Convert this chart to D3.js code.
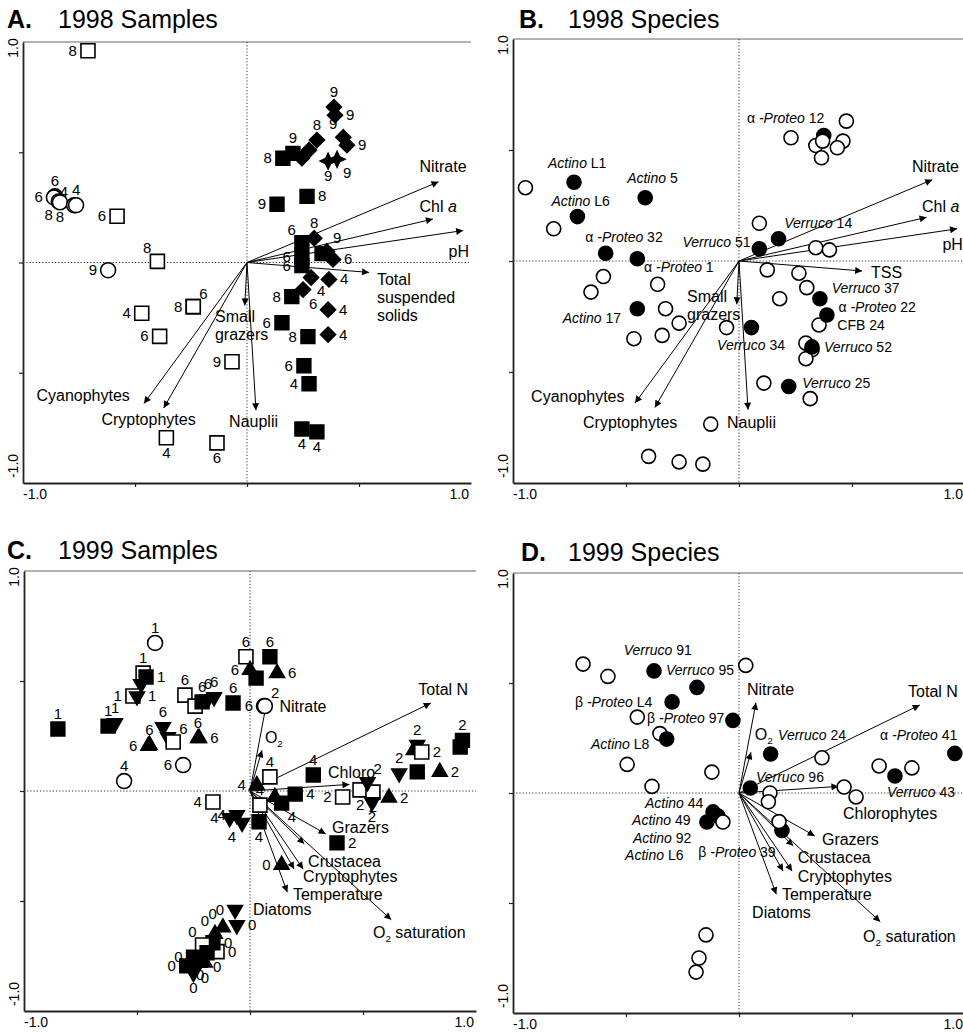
<!DOCTYPE html>
<html>
<head>
<meta charset="utf-8">
<script src="https://cdn.jsdelivr.net/npm/d3@7"></script>
<style>
  body { margin: 0; background: #fff; }
  text { font-family: "Liberation Sans", Arial, sans-serif; fill: #000; white-space: pre; }
</style>
</head>
<body>
<svg width="963" height="1033"></svg>
<script>
// ---- data, in ordination axis units (-1..1) ----

// environmental vectors (same for both panels of a year)
var vec98 = [
  ["Nitrate", 0.855, 0.366],
  ["Chl a", 0.83, 0.197],
  ["pH", 0.965, 0.145],
  ["TSS", 0.545, -0.045],
  ["Small grazers", -0.01, -0.195],
  ["Nauplii", 0.04, -0.67],
  ["Cyanophytes", -0.46, -0.64],
  ["Cryptophytes", -0.372, -0.66]
];
var vec99 = [
  ["Total N", 0.80, 0.40],
  ["Nitrate", 0.075, 0.41],
  ["O2", 0.053, 0.185],
  ["Chlorophytes", 0.44, 0.03],
  ["Grazers", 0.335, -0.195],
  ["Crustacea", 0.24, -0.24],
  ["Cryptophytes", 0.235, -0.355],
  ["Temperature", 0.195, -0.355],
  ["Diatoms", 0.165, -0.46],
  ["O2 saturation", 0.625, -0.585]
];

// vector label anchors: text ("|" new line, _italic_, ~sub~), x, y
var vecLabA = [
  ["Nitrate", 0.77, 0.41], ["Chl _a_", 0.77, 0.23], ["pH", 0.90, 0.027],
  ["Total|suspended|solids", 0.58, -0.10], ["Small|grazers", -0.143, -0.27],
  ["Cyanophytes", -0.94, -0.63], ["Cryptophytes", -0.65, -0.735], ["Nauplii", -0.08, -0.745]
];
var vecLabB = [
  ["Nitrate", 0.765, 0.40], ["Chl _a_", 0.81, 0.22], ["pH", 0.90, 0.05],
  ["TSS", 0.584, -0.077], ["Small|grazers", -0.23, -0.185],
  ["Cyanophytes", -0.92, -0.635], ["Cryptophytes", -0.69, -0.75], ["Nauplii", -0.053, -0.75]
];
var vecLabC = [
  ["Total N", 0.745, 0.436], ["Nitrate", 0.13, 0.36], ["O~2~", 0.066, 0.22],
  ["Chloro", 0.345, 0.06], ["Grazers", 0.363, -0.19], ["Crustacea", 0.257, -0.345],
  ["Cryptophytes", 0.235, -0.414], ["Temperature", 0.19, -0.495],
  ["Diatoms", 0.013, -0.564], ["O~2~ saturation", 0.544, -0.668]
];
var vecLabD = [
  ["Total N", 0.748, 0.436], ["Nitrate", 0.035, 0.445], ["O~2~", 0.07, 0.24],
  ["Chlorophytes", 0.46, -0.118], ["Grazers", 0.367, -0.236], ["Crustacea", 0.26, -0.318],
  ["Cryptophytes", 0.26, -0.405], ["Temperature", 0.19, -0.486],
  ["Diatoms", 0.058, -0.568], ["O~2~ saturation", 0.549, -0.677]
];

// samples: x, y, symbol (os open square, oc open circle, fs filled square,
// fd filled diamond, st star, tu/td filled triangle up/down), label, label side
var samples98 = [
  [-0.71, 0.96, "os", "8", "l"],
  [-0.857, 0.30, "oc", "6", "t"], [-0.862, 0.295, "oc", "6", "l"],
  [-0.84, 0.277, "oc", "8", "bl"], [-0.835, 0.273, "oc", "8", "b"],
  [-0.772, 0.26, "oc", "4", "tl"], [-0.763, 0.26, "oc", "4", "t"],
  [-0.58, 0.21, "os", "6", "l"], [-0.40, 0.005, "os", "8", "tl"],
  [-0.62, -0.035, "oc", "9", "l"], [-0.47, -0.23, "os", "4", "l"],
  [-0.39, -0.335, "os", "6", "l"], [-0.24, -0.20, "os", "8", "l"],
  [-0.24, -0.20, "os", "6", "tr"], [-0.067, -0.45, "os", "9", "l"],
  [-0.36, -0.795, "os", "4", "b"], [-0.134, -0.818, "os", "6", "b"],
  [0.16, 0.473, "fs", "8", "l"], [0.205, 0.495, "fs", "9", "t"],
  [0.245, 0.473, "fd", "", ""], [0.277, 0.51, "fd", "", ""], [0.312, 0.555, "fd", "8", "t"],
  [0.268, 0.30, "fs", "8", "r"], [0.134, 0.264, "fs", "9", "l"],
  [0.388, 0.705, "fd", "9", "t"], [0.393, 0.668, "fd", "9", "r"],
  [0.43, 0.568, "fd", "9", "tl"], [0.446, 0.532, "fd", "9", "r"],
  [0.362, 0.46, "st", "9", "b"], [0.402, 0.468, "st", "9", "br"],
  [0.30, 0.11, "fd", "8", "t"], [0.245, 0.09, "fs", "6", "tl"],
  [0.357, 0.05, "fd", "9", "tr"], [0.335, 0.04, "fs", "", ""],
  [0.384, 0.014, "fd", "6", "r"], [0.245, 0.023, "fs", "6", "l"],
  [0.245, -0.014, "fs", "6", "l"], [0.286, -0.068, "fd", "4", "br"],
  [0.366, -0.077, "fd", "4", "r"], [0.20, -0.155, "fs", "8", "l"],
  [0.25, -0.123, "fd", "6", "br"], [0.362, -0.214, "fd", "4", "r"],
  [0.156, -0.273, "fs", "6", "l"], [0.362, -0.327, "fd", "4", "r"],
  [0.272, -0.336, "fs", "8", "l"], [0.254, -0.468, "fs", "6", "l"],
  [0.277, -0.55, "fs", "4", "l"], [0.245, -0.755, "fs", "4", "b"],
  [0.312, -0.768, "fs", "4", "b"]
];

var samples99 = [
  [-0.42, 0.673, "oc", "1", "t"], [-0.473, 0.536, "os", "1", "t"],
  [-0.46, 0.518, "fs", "1", "r"], [-0.482, 0.486, "td", "", ""],
  [-0.518, 0.432, "os", "1", "l"], [-0.50, 0.43, "td", "1", "r"],
  [-0.288, 0.436, "os", "6", "t"], [-0.243, 0.386, "os", "", ""],
  [-0.212, 0.405, "fs", "6", "t"], [-0.186, 0.418, "td", "6", "t"],
  [-0.159, 0.427, "td", "6", "t"], [-0.075, 0.40, "fs", "6", "t"],
  [-0.85, 0.282, "fs", "1", "t"], [-0.628, 0.295, "fs", "1", "t"],
  [-0.597, 0.309, "td", "1", "t"], [-0.385, 0.29, "td", "6", "t"],
  [-0.363, 0.245, "td", "", ""], [-0.34, 0.223, "os", "6", "tr"],
  [-0.45, 0.205, "tu", "6", "l"], [-0.445, 0.21, "tu", "6", "t"],
  [-0.23, 0.24, "tu", "6", "t"], [-0.225, 0.24, "tu", "6", "r"],
  [-0.296, 0.118, "oc", "6", "l"], [-0.557, 0.045, "oc", "4", "t"],
  [-0.018, 0.61, "os", "6", "t"], [0.0, 0.55, "tu", "6", "l"],
  [0.027, 0.513, "fs", "", ""], [0.088, 0.61, "fs", "6", "t"],
  [0.12, 0.536, "tu", "6", "r"],
  [0.062, 0.386, "oc", "6", "l"], [0.066, 0.386, "oc", "2", "tr"],
  [0.088, 0.064, "os", "4", "t"], [0.28, 0.073, "fs", "4", "t"],
  [0.03, 0.027, "tu", "4", "l"], [0.11, -0.027, "tu", "", ""],
  [0.2, -0.014, "fs", "4", "r"], [0.14, -0.055, "fs", "4", "br"],
  [0.044, -0.064, "os", "4", "t"], [-0.164, -0.05, "os", "4", "l"],
  [-0.058, -0.11, "td", "4", "l"], [-0.09, -0.123, "td", "4", "l"],
  [-0.035, -0.145, "td", "4", "bl"], [0.04, -0.14, "fs", "4", "b"],
  [0.41, -0.027, "os", "2", "l"], [0.487, 0.005, "os", "2", "b"],
  [0.544, -0.005, "os", "2", "b"], [0.52, 0.04, "td", "2", "tr"],
  [0.54, -0.05, "td", "2", "b"], [0.615, -0.03, "tu", "2", "r"],
  [0.66, 0.08, "td", "2", "t"], [0.74, 0.087, "fs", "", ""],
  [0.84, 0.087, "tu", "2", "r"], [0.725, 0.186, "tu", "", ""],
  [0.74, 0.21, "td", "2", "t"], [0.76, 0.177, "os", "2", "r"],
  [0.93, 0.20, "fs", "", ""], [0.94, 0.23, "fs", "2", "t"],
  [0.385, -0.236, "fs", "2", "r"], [0.14, -0.336, "tu", "0", "l"],
  [-0.066, -0.54, "td", "0", "l"], [-0.058, -0.61, "td", "0", "r"],
  [-0.12, -0.62, "tu", "0", "tl"], [-0.155, -0.65, "tu", "0", "tl"],
  [-0.146, -0.73, "os", "0", "r"], [-0.164, -0.69, "fs", "0", "r"],
  [-0.21, -0.70, "os", "0", "tl"], [-0.19, -0.735, "fs", "0", "br"],
  [-0.20, -0.78, "tu", "0", "b"], [-0.25, -0.755, "fs", "0", "l"],
  [-0.22, -0.77, "fs", "0", "b"], [-0.28, -0.795, "fs", "0", "l"],
  [-0.25, -0.827, "td", "0", "b"]
];

// species: x, y, filled (1 = named phylotype)
var species98 = [
  [0.375, 0.565, 1],
  [-0.945, 0.33, 0], [-0.82, 0.145, 0], [-0.6, -0.07, 0], [-0.655, -0.14, 0],
  [-0.36, -0.105, 0], [-0.325, -0.215, 0], [-0.265, -0.28, 0], [-0.465, -0.35, 0],
  [-0.34, -0.335, 0], [-0.055, -0.30, 0], [0.11, -0.55, 0], [0.315, -0.62, 0],
  [-0.125, -0.735, 0], [-0.40, -0.88, 0], [-0.265, -0.905, 0], [-0.16, -0.915, 0],
  [0.296, -0.37, 0], [0.323, -0.40, 0], [0.296, -0.44, 0], [0.354, -0.288, 0],
  [0.09, 0.17, 0], [0.34, 0.06, 0], [0.40, 0.05, 0], [0.125, -0.04, 0],
  [0.265, -0.055, 0], [0.30, -0.12, 0], [0.18, -0.17, 0],
  [0.475, 0.63, 0], [0.23, 0.555, 0], [0.34, 0.52, 0], [0.37, 0.54, 0],
  [0.46, 0.54, 0], [0.435, 0.51, 0], [0.365, 0.465, 0],
  [-0.73, 0.355, 1], [-0.415, 0.285, 1], [-0.715, 0.2, 1], [-0.59, 0.035, 1],
  [-0.45, 0.01, 1], [-0.45, -0.215, 1], [0.055, -0.30, 1], [0.22, -0.565, 1],
  [0.323, -0.387, 1], [0.358, -0.17, 1], [0.389, -0.243, 1], [0.175, 0.10, 1],
  [0.09, 0.055, 1]
];
var species99 = [
  [-0.69, 0.586, 0], [-0.58, 0.53, 0], [-0.45, 0.345, 0], [-0.35, 0.27, 0],
  [-0.495, 0.13, 0], [-0.12, 0.095, 0], [-0.385, 0.03, 0], [0.03, 0.58, 0],
  [0.367, 0.16, 0], [0.62, 0.123, 0], [0.765, 0.114, 0], [0.137, 0.0, 0],
  [0.13, -0.04, 0], [0.465, 0.027, 0], [0.518, -0.018, 0],
  [-0.146, -0.645, 0], [-0.177, -0.75, 0], [-0.19, -0.814, 0],
  [-0.376, 0.555, 1], [-0.186, 0.48, 1], [-0.296, 0.414, 1], [-0.027, 0.33, 1],
  [-0.32, 0.245, 1], [0.05, 0.023, 1], [0.14, 0.177, 1], [0.69, 0.077, 1],
  [0.955, 0.18, 1], [0.19, -0.17, 1], [0.177, -0.13, 0],
  [-0.115, -0.086, 1], [-0.093, -0.105, 1], [-0.142, -0.132, 1], [-0.071, -0.132, 0]
];

var spLab98 = [
  ["_Actino_ L1", -0.845, 0.42], ["_Actino_ 5", -0.495, 0.35], ["_Actino_ L6", -0.83, 0.25],
  ["\u03b1 _-Proteo_ 32", -0.68, 0.085], ["\u03b1 _-Proteo_ 1", -0.42, -0.05],
  ["_Actino_ 17", -0.78, -0.28], ["_Verruco_ 51", -0.25, 0.063], ["_Verruco_ 14", 0.20, 0.15],
  ["\u03b1 _-Proteo_ 12", 0.035, 0.62], ["_Verruco_ 37", 0.41, -0.145],
  ["\u03b1 _-Proteo_ 22", 0.44, -0.23], ["CFB 24", 0.435, -0.31],
  ["_Verruco_ 52", 0.376, -0.41], ["_Verruco_ 34", -0.097, -0.40], ["_Verruco_ 25", 0.28, -0.57]
];
var spLab99 = [
  ["_Verruco_ 91", -0.51, 0.627], ["_Verruco_ 95", -0.323, 0.536],
  ["\u03b2 _-Proteo_ L4", -0.726, 0.39], ["\u03b2 _-Proteo_ 97", -0.407, 0.318],
  ["_Actino_ L8", -0.655, 0.2], ["_Verruco_ 24", 0.173, 0.24],
  ["\u03b1 _-Proteo_ 41", 0.624, 0.24], ["_Verruco_ 96", 0.075, 0.05],
  ["_Verruco_ 43", 0.655, -0.018], ["_Actino_ 44", -0.416, -0.068],
  ["_Actino_ 49", -0.473, -0.145], ["_Actino_ 92", -0.469, -0.227],
  ["_Actino_ L6", -0.504, -0.305], ["\u03b2 _-Proteo_ 39", -0.18, -0.29]
];

// ---- drawing ----
var svg = d3.select("svg");

svg.append("defs").append("marker")
  .attr("id", "ah").attr("viewBox", "0 0 10 10")
  .attr("refX", 10).attr("refY", 5)
  .attr("markerWidth", 9).attr("markerHeight", 7)
  .attr("markerUnits", "userSpaceOnUse").attr("orient", "auto")
  .append("path").attr("d", "M0,0L10,5L0,10z").attr("fill", "#000");

// four-pointed star and square diamond, not in d3's symbol set
var star4 = {
  draw: function (c, size) {
    var r = Math.sqrt(size) / 2, s = r * 0.32;
    c.moveTo(0, -r); c.lineTo(s, -s); c.lineTo(r, 0); c.lineTo(s, s);
    c.lineTo(0, r); c.lineTo(-s, s); c.lineTo(-r, 0); c.lineTo(-s, -s); c.closePath();
  }
};
var diamond = {
  draw: function (c, size) {
    var r = Math.sqrt(size) / 2;
    c.moveTo(0, -r); c.lineTo(r, 0); c.lineTo(0, r); c.lineTo(-r, 0); c.closePath();
  }
};
var symb = {
  os: [d3.symbolSquare, 196, false], fs: [d3.symbolSquare, 190, true],
  oc: [d3.symbolCircle, 175, false], fc: [d3.symbolCircle, 160, true],
  fd: [diamond, 225, true], st: [star4, 240, true],
  tu: [d3.symbolTriangle, 95, true], td: [d3.symbolTriangle, 95, true]
};

var side = {
  l: [-11, 5, "end"], r: [11, 5, "start"], t: [0, -10, "middle"], b: [0, 20, "middle"],
  tl: [-6, -8, "end"], tr: [6, -8, "start"], bl: [-6, 19, "end"], br: [6, 19, "start"]
};

function rich(t, str) {
  var down = false;
  str.split(/(_[^_]+_|~[^~]+~)/).filter(function (s) { return s.length; })
    .forEach(function (s) {
      var ts = t.append("tspan");
      if (s[0] == "~") {
        ts.attr("dy", 4).style("font-size", "0.62em").text(s.slice(1, -1));
        down = true;
        return;
      }
      if (s[0] == "_") ts.style("font-style", "italic").text(s.slice(1, -1));
      else ts.text(s);
      if (down) { ts.attr("dy", -4); down = false; }
    });
}

var panels = [
  { key: "A.", title: "1998 Samples", l: 23, r: 471, t: 42, b: 483, tx: 7, tx2: 58, ty: 28,
    vecs: vec98, labs: vecLabA, pts: samples98 },
  { key: "B.", title: "1998 Species", l: 513, r: 965, t: 39, b: 483, tx: 519, tx2: 568, ty: 28,
    vecs: vec98, labs: vecLabB, sp: species98, spl: spLab98 },
  { key: "C.", title: "1999 Samples", l: 24, r: 476, t: 571, b: 1011, tx: 7, tx2: 58, ty: 559,
    vecs: vec99, labs: vecLabC, pts: samples99 },
  { key: "D.", title: "1999 Species", l: 513, r: 965, t: 573, b: 1013, tx: 521, tx2: 568, ty: 561,
    vecs: vec99, labs: vecLabD, sp: species99, spl: spLab99 }
];

panels.forEach(function (p) {
  var g = svg.append("g");
  var x = d3.scaleLinear().domain([-1, 1]).range([p.l, p.r]);
  var y = d3.scaleLinear().domain([-1, 1]).range([p.b, p.t]);

  // title
  g.append("text").attr("x", p.tx).attr("y", p.ty)
    .style("font-size", "25px").style("font-weight", "bold").text(p.key);
  g.append("text").attr("x", p.tx2).attr("y", p.ty)
    .style("font-size", "25px").text(p.title);

  // frame
  g.append("line").attr("x1", p.l).attr("x2", p.r).attr("y1", p.t).attr("y2", p.t)
    .attr("stroke", "#666").attr("stroke-width", 1.2);
  var ax = g.append("g").attr("transform", "translate(0," + p.b + ")")
    .call(d3.axisBottom(x).tickValues([-0.5, 0, 0.5]).tickSize(4).tickSizeOuter(0).tickFormat(""));
  var ay = g.append("g").attr("transform", "translate(" + p.l + ",0)")
    .call(d3.axisLeft(y).tickValues([-0.5, 0, 0.5]).tickSize(4).tickSizeOuter(0).tickFormat(""));
  [ax, ay].forEach(function (a) {
    a.select(".domain").attr("stroke", "#222").attr("stroke-width", 1.8);
    a.selectAll(".tick line").attr("stroke", "#222").attr("stroke-width", 1.2);
  });

  g.append("text").attr("x", p.l).attr("y", p.b + 16).style("font-size", "14px").text("-1.0");
  g.append("text").attr("x", p.r - 2).attr("y", p.b + 16).attr("text-anchor", "end")
    .style("font-size", "14px").text("1.0");
  g.append("text").attr("transform", "translate(" + (p.l - 5) + "," + (p.t + 6) + ") rotate(-90)")
    .attr("text-anchor", "middle").style("font-size", "14px").text("1.0");
  g.append("text").attr("transform", "translate(" + (p.l - 5) + "," + (p.b - 17) + ") rotate(-90)")
    .attr("text-anchor", "middle").style("font-size", "14px").text("-1.0");

  // zero lines
  g.append("line").attr("x1", p.l).attr("x2", p.r).attr("y1", y(0)).attr("y2", y(0))
    .attr("stroke", "#333").attr("stroke-dasharray", "1.2,2");
  g.append("line").attr("x1", x(0)).attr("x2", x(0)).attr("y1", p.t).attr("y2", p.b)
    .attr("stroke", "#333").attr("stroke-dasharray", "1.2,2");

  // environmental arrows
  g.append("g").selectAll("line").data(p.vecs).enter().append("line")
    .attr("x1", x(0)).attr("y1", y(0))
    .attr("x2", function (d) { return x(d[1]); })
    .attr("y2", function (d) { return y(d[2]); })
    .attr("stroke", "#000").attr("stroke-width", 1)
    .attr("marker-end", "url(#ah)");

  // points
  var sym = d3.symbol();
  if (p.pts) {
    var pg = g.append("g");
    pg.selectAll("path").data(p.pts).enter().append("path")
      .attr("transform", function (d) {
        return "translate(" + x(d[0]) + "," + y(d[1]) + ")" + (d[2] == "td" ? " rotate(180)" : "");
      })
      .attr("d", function (d) { return sym.type(symb[d[2]][0]).size(symb[d[2]][1])(); })
      .attr("fill", function (d) { return symb[d[2]][2] ? "#000" : "#fff"; })
      .attr("stroke", "#000").attr("stroke-width", 1.6);
    pg.selectAll("text").data(p.pts.filter(function (d) { return d[3]; })).enter().append("text")
      .attr("x", function (d) { return x(d[0]) + side[d[4]][0]; })
      .attr("y", function (d) { return y(d[1]) + side[d[4]][1]; })
      .attr("text-anchor", function (d) { return side[d[4]][2]; })
      .style("font-size", "15px")
      .text(function (d) { return d[3]; });
  }
  if (p.sp) {
    g.append("g").selectAll("circle").data(p.sp).enter().append("circle")
      .attr("cx", function (d) { return x(d[0]); })
      .attr("cy", function (d) { return y(d[1]); })
      .attr("r", 7)
      .attr("fill", function (d) { return d[2] ? "#000" : "#fff"; })
      .attr("stroke", "#000").attr("stroke-width", 1.6);
    g.append("g").selectAll("text").data(p.spl).enter().append("text")
      .attr("x", function (d) { return x(d[1]); })
      .attr("y", function (d) { return y(d[2]); })
      .style("font-size", "14px")
      .each(function (d) { rich(d3.select(this), d[0]); });
  }

  // vector labels
  g.append("g").selectAll("g").data(p.labs).enter().append("g")
    .each(function (d) {
      var gg = d3.select(this);
      d[0].split("|").forEach(function (line, i) {
        var t = gg.append("text").attr("x", x(d[1])).attr("y", y(d[2]) + i * 18)
          .style("font-size", "16px");
        rich(t, line);
      });
    });
});
</script>
</body>
</html>
